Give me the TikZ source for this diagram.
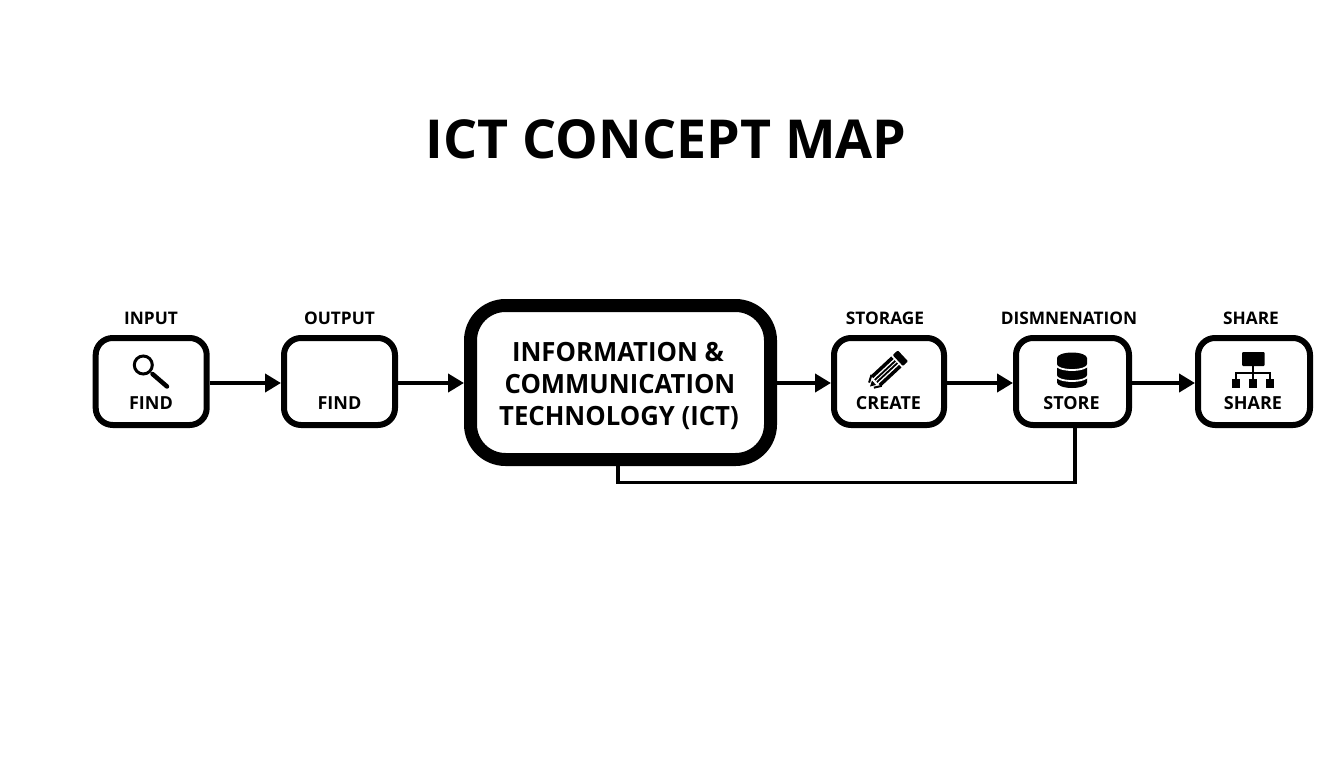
\documentclass[tikz,border=0pt]{standalone}
\usepackage{fontspec}
\setmainfont{Open Sans}
\newfontfamily\hubfont[FakeStretch=0.97]{Open Sans}
\usetikzlibrary{arrows.meta}
\tikzset{
  box/.style={draw=black,fill=white,line width=6pt,rounded corners=17pt,minimum height=87pt,inner sep=0pt},
  hub/.style={draw=black,fill=white,line width=13pt,rounded corners=35pt,inner sep=0pt,minimum width=300pt,minimum height=154pt},
  flow/.style={line width=4pt,-{Triangle[length=16pt,width=18pt]}},
  link/.style={line width=3.6pt},
  toplabel/.style={font=\fontsize{17.3}{20}\selectfont\bfseries,anchor=base,inner sep=0pt},
  inlabel/.style={font=\fontsize{18}{20}\selectfont\bfseries,anchor=base,inner sep=0pt},
  hubline/.style={font=\hubfont\fontsize{26.5}{30}\selectfont\bfseries,anchor=base,inner sep=0pt},
}
\begin{document}
\begin{tikzpicture}[x=1pt,y=-1pt]
\useasboundingbox (0,0) rectangle (1344,768);
\fill[white] (0,0) rectangle (1344,768);
\node[font=\fontsize{53.7}{60}\selectfont\bfseries,anchor=base,inner sep=0pt] (title) at (666,158) {ICT CONCEPT MAP};

\node[box,minimum width=111pt] (input) at (151.2,381.5) {};
\node[box,minimum width=111pt] (output) at (339.5,381.5) {};
\node[hub] (ict) at (620.5,382.5) {};
\node[box,minimum width=110pt] (storage) at (889,381.5) {};
\node[box,minimum width=113pt] (dissem) at (1072.5,381.5) {};
\node[box,minimum width=112pt] (share) at (1254,381.5) {};

\coordinate (ictdrop) at (618,466);
\coordinate (dissemdrop) at (1075,428);
\draw[link,line join=miter] (ictdrop) |- (850,482.5) -| (dissemdrop);

\draw[flow] ([yshift=-1.5pt]input.east) -- ([yshift=-1.5pt]output.west);
\draw[flow] ([yshift=-1.5pt]output.east) -- ([yshift=-.5pt]ict.west);
\draw[flow] ([yshift=-.5pt]ict.east) -- ([yshift=-1.5pt]storage.west);
\draw[flow] ([yshift=-1.5pt]storage.east) -- ([yshift=-1.5pt]dissem.west);
\draw[flow] ([yshift=-1.5pt]dissem.east) -- ([yshift=-1.5pt]share.west);

\node[toplabel] (l1) at (151,324) {INPUT};
\node[toplabel] (l2) at (339.5,324) {OUTPUT};
\node[toplabel] (l3) at (885,324) {STORAGE};
\node[toplabel] (l4) at (1069,324) {DISMNENATION};
\node[toplabel] (l5) at (1251,324) {SHARE};

\node[inlabel] (t1) at (151,409.5) {FIND};
\node[inlabel] (t2) at (339.5,409.5) {FIND};
\node[inlabel] (t3) at (888.5,409.5) {CREATE};
\node[inlabel] (t4) at (1071.5,409.5) {STORE};
\node[inlabel] (t5) at (1253,409.5) {SHARE};

\node[hubline] (h1) at (618,361) {INFORMATION \&};
\node[hubline] (h2) at (620,393) {COMMUNICATION};
\node[hubline] (h3) at (619,425) {TECHNOLOGY (ICT)};

% magnifier
\draw[line width=3pt] (143.3,365) circle (9pt);
\draw[line width=4.5pt,line cap=round] (152.5,374) -- (167,386.5);

% pencil
\begin{scope}[shift={(870,386.5)},rotate=43]
  \draw[line width=2pt,line join=round] (2,-3.5) -- (9,-7.5) (2,3.5) -- (9,7.5);
  \fill[black] (0,0) -- (5.5,-3) -- (5.5,3) -- cycle;
  \fill[black] (8,-7.5) rectangle (36,-4);
  \fill[black] (8,-2.4) rectangle (36,-.6);
  \fill[black] (8,.6) rectangle (36,2.4);
  \fill[black] (8,4) rectangle (36,7.5);
  \fill[black,rounded corners=1pt] (38,-7.5) rectangle (45,7.5);
\end{scope}

% database
\fill[black] (1057,358) -- (1057,382.5) arc[start angle=180,end angle=360,x radius=15pt,y radius=5.5pt] -- (1087,358) arc[start angle=0,end angle=360,x radius=15pt,y radius=5.5pt] -- cycle;
\draw[white,line width=1.8pt] (1056,364.5) arc[start angle=180,end angle=360,x radius=16pt,y radius=5.5pt];
\draw[white,line width=1.8pt] (1056,375.5) arc[start angle=180,end angle=360,x radius=16pt,y radius=5.5pt];

% hierarchy
\fill[black,rounded corners=1pt] (1242,352) rectangle (1264.5,366);
\draw[line width=2pt] (1253,366) -- (1253,379);
\draw[line width=2pt] (1236,380) -- (1236,373) -- (1270,373) -- (1270,380);
\fill[black] (1232,379) rectangle (1240,387.5);
\fill[black] (1249,379) rectangle (1257,387.5);
\fill[black] (1266,379) rectangle (1274,387.5);
\end{tikzpicture}
\end{document}
